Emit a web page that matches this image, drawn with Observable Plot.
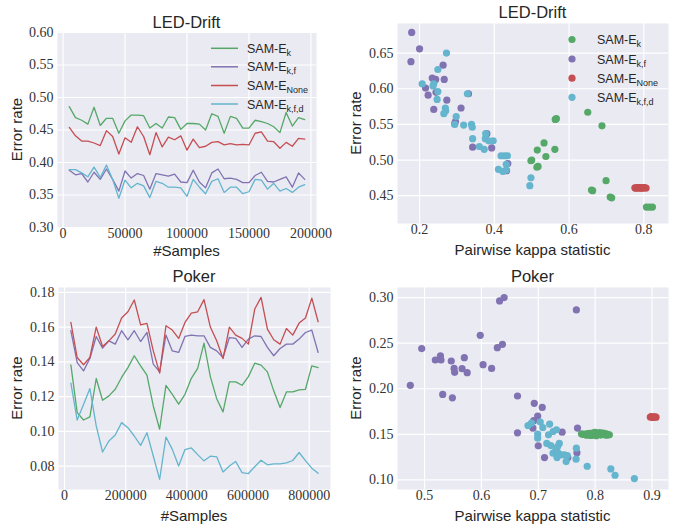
<!DOCTYPE html>
<html><head><meta charset="utf-8">
<script src="https://cdn.jsdelivr.net/npm/d3@7"></script>
<script src="https://cdn.jsdelivr.net/npm/@observablehq/plot@0.6"></script>
<style>
body{margin:0;background:#fff;}
#fig{position:relative;width:681px;height:531px;overflow:hidden;background:#fff;}
#fig > svg{position:absolute;}
</style></head><body><div id="fig"></div>
<script>
// ---------- data ----------
const seriesBase = "SAM-E";
const seriesSubs = ["k", "k,f", "None", "k,f,d"];
const seriesColors = ["#55A868", "#8172B2", "#C44E52", "#64B5CD"];

const ledSamples = [5000,10000,15000,20000,25000,30000,35000,40000,45000,50000,55000,60000,65000,70000,75000,80000,85000,90000,95000,100000,105000,110000,115000,120000,125000,130000,135000,140000,145000,150000,155000,160000,165000,170000,175000,180000,185000,190000,195000];
const ledErrK    = [0.486,0.469,0.465,0.459,0.485,0.457,0.468,0.468,0.445,0.464,0.473,0.473,0.472,0.453,0.460,0.453,0.470,0.469,0.451,0.460,0.460,0.459,0.450,0.475,0.471,0.445,0.471,0.468,0.453,0.453,0.465,0.463,0.460,0.455,0.446,0.477,0.456,0.469,0.466];
const ledErrKF   = [0.388,0.381,0.383,0.370,0.385,0.374,0.390,0.374,0.356,0.387,0.376,0.383,0.380,0.359,0.383,0.381,0.379,0.382,0.370,0.369,0.388,0.370,0.361,0.384,0.390,0.375,0.376,0.374,0.369,0.369,0.380,0.385,0.371,0.370,0.374,0.378,0.362,0.384,0.374];
const ledErrNone = [0.454,0.441,0.433,0.433,0.430,0.426,0.449,0.440,0.413,0.438,0.431,0.455,0.440,0.412,0.446,0.424,0.439,0.435,0.441,0.419,0.436,0.423,0.425,0.431,0.432,0.427,0.429,0.427,0.428,0.427,0.445,0.447,0.433,0.432,0.422,0.431,0.425,0.437,0.436];
const ledErrKFD  = [0.389,0.389,0.384,0.378,0.393,0.377,0.396,0.374,0.345,0.373,0.361,0.368,0.364,0.346,0.371,0.368,0.362,0.362,0.361,0.348,0.374,0.362,0.352,0.371,0.375,0.354,0.362,0.362,0.352,0.355,0.374,0.373,0.359,0.368,0.356,0.360,0.354,0.362,0.366];

const pokerSamples = [20730,41460,62190,82920,103650,124380,145110,165840,186570,207300,228030,248760,269490,290220,310950,331680,352410,373140,393870,414600,435330,456060,476790,497520,518250,538980,559710,580440,601170,621900,642630,663360,684090,704820,725550,746280,767010,787740,808470,829200];
const pokerErrK    = [0.1383,0.1108,0.1065,0.1083,0.1304,0.1179,0.1204,0.1242,0.1310,0.1367,0.1435,0.1377,0.1323,0.1146,0.1012,0.1265,0.1213,0.1156,0.1213,0.1305,0.1362,0.1508,0.1315,0.1188,0.1112,0.1285,0.1285,0.1265,0.1315,0.1392,0.1381,0.1342,0.1233,0.1137,0.1227,0.1227,0.1238,0.1242,0.1377,0.1367];
const pokerErrKF   = [0.1579,0.1396,0.1348,0.1419,0.1546,0.1479,0.1521,0.1502,0.1579,0.1527,0.1579,0.1517,0.1569,0.1387,0.1342,0.1554,0.1463,0.1454,0.1546,0.1554,0.1550,0.1550,0.1483,0.1463,0.1425,0.1540,0.1535,0.1483,0.1531,0.1550,0.1546,0.1483,0.1435,0.1477,0.1502,0.1502,0.1531,0.1569,0.1583,0.1454];
const pokerErrNone = [0.1627,0.1425,0.1383,0.1425,0.1600,0.1488,0.1521,0.1560,0.1652,0.1688,0.1756,0.1613,0.1621,0.1463,0.1335,0.1608,0.1583,0.1535,0.1627,0.1681,0.1688,0.1758,0.1600,0.1521,0.1419,0.1600,0.1554,0.1535,0.1502,0.1704,0.1771,0.1588,0.1527,0.1502,0.1592,0.1554,0.1623,0.1652,0.1767,0.1631];
const pokerErrKFD  = [0.1277,0.1065,0.1155,0.1246,0.1031,0.0881,0.0944,0.0979,0.1050,0.1021,0.0973,0.0919,0.0992,0.0858,0.0723,0.0967,0.0896,0.0800,0.0895,0.0904,0.0866,0.0830,0.0857,0.0853,0.0766,0.0800,0.0826,0.0762,0.0757,0.0796,0.0833,0.0807,0.0812,0.0812,0.0818,0.0832,0.0878,0.0831,0.0788,0.0758];

// scatter: [pairwise kappa, error rate]
const ledScatterK = [[0.566,0.558],[0.563,0.557],[0.533,0.524],[0.515,0.514],[0.562,0.515],[0.500,0.500],[0.498,0.499],[0.538,0.505],[0.517,0.491],[0.514,0.490],[0.650,0.567],[0.688,0.548],[0.699,0.471],[0.660,0.458],[0.663,0.457],[0.710,0.448],[0.714,0.447],[0.807,0.434],[0.815,0.434],[0.823,0.434]];
const ledScatterKF = [[0.179,0.679],[0.200,0.656],[0.177,0.638],[0.263,0.633],[0.234,0.615],[0.243,0.613],[0.266,0.613],[0.216,0.601],[0.244,0.595],[0.223,0.591],[0.273,0.584],[0.238,0.571],[0.311,0.573],[0.331,0.593],[0.296,0.554],[0.294,0.551],[0.436,0.495],[0.380,0.537],[0.342,0.518],[0.393,0.517],[0.433,0.485]];
const ledScatterNone = [[0.776,0.461],[0.779,0.4605],[0.782,0.4615],[0.785,0.461],[0.788,0.4608],[0.791,0.4612],[0.794,0.4605],[0.797,0.461],[0.800,0.4615],[0.803,0.461],[0.806,0.4608]];
const ledScatterKFD = [[0.272,0.650],[0.249,0.627],[0.207,0.607],[0.238,0.607],[0.236,0.604],[0.249,0.596],[0.247,0.585],[0.269,0.573],[0.270,0.569],[0.265,0.565],[0.328,0.593],[0.298,0.561],[0.294,0.550],[0.318,0.549],[0.339,0.550],[0.341,0.546],[0.342,0.530],[0.377,0.537],[0.376,0.530],[0.385,0.527],[0.397,0.527],[0.360,0.519],[0.373,0.515],[0.418,0.506],[0.427,0.506],[0.435,0.506],[0.432,0.494],[0.411,0.487],[0.423,0.484],[0.432,0.486],[0.498,0.475],[0.495,0.464]];

const pokerScatterK = [[0.776,0.1505],[0.779,0.1498],[0.782,0.1502],[0.785,0.1490],[0.787,0.1508],[0.789,0.1495],[0.791,0.1512],[0.793,0.1488],[0.795,0.1503],[0.797,0.1515],[0.799,0.1497],[0.800,0.1522],[0.802,0.1485],[0.804,0.1510],[0.806,0.1500],[0.808,0.1518],[0.810,0.1492],[0.812,0.1505],[0.814,0.1513],[0.816,0.1497],[0.818,0.1508],[0.820,0.1490],[0.822,0.1500],[0.825,0.1495]];
const pokerScatterKF = [[0.475,0.2037],[0.495,0.2440],[0.519,0.2315],[0.528,0.2360],[0.529,0.2315],[0.547,0.2304],[0.552,0.2223],[0.553,0.2180],[0.570,0.2340],[0.566,0.2220],[0.575,0.2176],[0.532,0.1938],[0.549,0.1900],[0.598,0.2586],[0.603,0.2264],[0.618,0.2223],[0.628,0.2450],[0.637,0.2487],[0.632,0.2963],[0.640,0.3000],[0.767,0.2864],[0.6635,0.1920],[0.693,0.1840],[0.707,0.1795],[0.699,0.1700],[0.692,0.1650],[0.6906,0.1568],[0.6635,0.1516],[0.742,0.1524],[0.769,0.1568],[0.700,0.1374],[0.711,0.1245],[0.768,0.1297],[0.752,0.1245]];
const pokerScatterNone = [[0.897,0.1690],[0.899,0.1695],[0.901,0.1685],[0.903,0.1690],[0.905,0.1692],[0.907,0.1688]];
const pokerScatterKFD = [[0.682,0.1597],[0.688,0.1623],[0.7035,0.1634],[0.720,0.1612],[0.708,0.1575],[0.718,0.1495],[0.699,0.1502],[0.699,0.1458],[0.726,0.1531],[0.732,0.1550],[0.737,0.1400],[0.734,0.1366],[0.715,0.1400],[0.722,0.1377],[0.726,0.1293],[0.731,0.1330],[0.735,0.1293],[0.740,0.1275],[0.733,0.1245],[0.746,0.1275],[0.751,0.1267],[0.749,0.1201],[0.7665,0.1227],[0.767,0.1348],[0.786,0.1150],[0.8276,0.1121],[0.835,0.1051],[0.869,0.1015]];

// ticks
const ledLineXTicks = [0,50000,100000,150000,200000];
const ledLineYTicks = [0.30,0.35,0.40,0.45,0.50,0.55,0.60];
const ledScatXTicks = [0.2,0.4,0.6,0.8];
const ledScatYTicks = [0.45,0.50,0.55,0.60,0.65];
const pokerLineXTicks = [0,200000,400000,600000,800000];
const pokerLineYTicks = [0.08,0.10,0.12,0.14,0.16,0.18];
const pokerScatXTicks = [0.5,0.6,0.7,0.8,0.9];
const pokerScatYTicks = [0.10,0.15,0.20,0.25,0.30];

const titles = ["LED-Drift","LED-Drift","Poker","Poker"];
const yLabel = "Error rate";
const xLabels = ["#Samples","Pairwise kappa statistic","#Samples","Pairwise kappa statistic"];

// ---------- drawing ----------
const fig = document.getElementById("fig");
const BG = "#EAEAF2";
const TICKFONT = "'Liberation Serif', 'DejaVu Serif', serif";
const SANS = "'Liberation Sans', Arial, sans-serif";

function baseMarks(xTicks, yTicks, xFmt, yFmt) {
  return [
    Plot.frame({fill: BG, stroke: null}),
    Plot.gridX(xTicks, {stroke: "#fff", strokeOpacity: 1, strokeWidth: 1.2}),
    Plot.gridY(yTicks, {stroke: "#fff", strokeOpacity: 1, strokeWidth: 1.2}),
    Plot.axisX(xTicks, {tickSize: 0, tickPadding: 1, tickFormat: xFmt, label: null, fill: "#333"}),
    Plot.axisY(yTicks, {tickSize: 0, tickPadding: 4, tickFormat: yFmt, label: null, fill: "#333"})
  ];
}

function place(svg, left, top) {
  svg.style.left = left + "px";
  svg.style.top = top + "px";
  fig.appendChild(svg);
}

function linePanel(opt) {
  const lines = opt.series.map((vals, s) =>
    Plot.line(vals.map((v, i) => ({x: opt.samples[i], y: v})),
      {x: "x", y: "y", stroke: seriesColors[s], strokeWidth: 1.3}));
  const p = Plot.plot({
    width: opt.w, height: opt.h,
    marginLeft: opt.m[0], marginRight: opt.m[1], marginTop: opt.m[2], marginBottom: opt.m[3],
    style: {background: "transparent", fontFamily: TICKFONT, fontSize: "14px", overflow: "visible"},
    x: {domain: opt.xDomain},
    y: {domain: opt.yDomain},
    marks: [...baseMarks(opt.xTicks, opt.yTicks, d => String(d), d3.format(".2f")), ...lines]
  });
  place(p, opt.left, opt.top);
}

function scatterPanel(opt) {
  const dots = opt.series.map((pts, s) =>
    Plot.dot(pts, {x: d => d[0], y: d => d[1], r: 3.6, fill: seriesColors[s], stroke: null}));
  const p = Plot.plot({
    width: opt.w, height: opt.h,
    marginLeft: opt.m[0], marginRight: opt.m[1], marginTop: opt.m[2], marginBottom: opt.m[3],
    style: {background: "transparent", fontFamily: TICKFONT, fontSize: "14px", overflow: "visible"},
    x: {domain: opt.xDomain},
    y: {domain: opt.yDomain},
    marks: [...baseMarks(opt.xTicks, opt.yTicks, d3.format(".1f"), d3.format(".2f")), ...dots]
  });
  place(p, opt.left, opt.top);
}

linePanel({left: 0, top: 0, w: 340, h: 260, m: [57, 24, 32, 33],
  samples: ledSamples, series: [ledErrK, ledErrKF, ledErrNone, ledErrKFD],
  xDomain: [-4500, 204500], yDomain: [0.30, 0.60], xTicks: ledLineXTicks, yTicks: ledLineYTicks});

scatterPanel({left: 340, top: 0, w: 341, h: 260, m: [57, 13, 23, 37],
  series: [ledScatterK, ledScatterKF, ledScatterNone, ledScatterKFD],
  xDomain: [0.141, 0.866], yDomain: [0.411, 0.6915], xTicks: ledScatXTicks, yTicks: ledScatYTicks});

linePanel({left: 0, top: 260, w: 340, h: 271, m: [58, 10, 27, 42],
  samples: pokerSamples, series: [pokerErrK, pokerErrKF, pokerErrNone, pokerErrKFD],
  xDomain: [-19694, 869624], yDomain: [0.0665, 0.1828], xTicks: pokerLineXTicks, yTicks: pokerLineYTicks});

scatterPanel({left: 340, top: 260, w: 341, h: 271, m: [57, 13, 27, 42],
  series: [pokerScatterK, pokerScatterKF, pokerScatterNone, pokerScatterKFD],
  xDomain: [0.4525, 0.929], yDomain: [0.0895, 0.311], xTicks: pokerScatXTicks, yTicks: pokerScatYTicks});

// ---------- overlay: titles, axis labels, legends ----------
const NS = "http://www.w3.org/2000/svg";
const ov = document.createElementNS(NS, "svg");
ov.setAttribute("width", 681); ov.setAttribute("height", 531);
ov.style.left = "0px"; ov.style.top = "0px"; ov.style.pointerEvents = "none";
fig.appendChild(ov);

function txt(x, y, s, o = {}) {
  const t = document.createElementNS(NS, "text");
  t.setAttribute("x", x); t.setAttribute("y", y);
  t.setAttribute("font-family", o.family || SANS);
  t.setAttribute("font-size", o.size || 15);
  t.setAttribute("fill", o.fill || "#262626");
  t.setAttribute("text-anchor", o.anchor || "middle");
  if (o.rotate) t.setAttribute("transform", `rotate(-90 ${x} ${y})`);
  t.textContent = s;
  ov.appendChild(t);
  return t;
}

// panel frames (plot areas) in page coordinates
const frames = [
  {x0: 57, x1: 316, y0: 32, y1: 227, titleY: 28, xlabY: 256, ylabX: 22},
  {x0: 397, x1: 668, y0: 23, y1: 223, titleY: 18, xlabY: 255, ylabX: 361},
  {x0: 58, x1: 330, y0: 287, y1: 489, titleY: 282, xlabY: 521, ylabX: 22},
  {x0: 397, x1: 668, y0: 287, y1: 489, titleY: 282, xlabY: 521, ylabX: 361}
];
frames.forEach((f, i) => {
  const cx = (f.x0 + f.x1) / 2, cy = (f.y0 + f.y1) / 2;
  txt(cx, f.titleY, titles[i], {size: 16.5});
  txt(cx, f.xlabY, xLabels[i], {size: 15});
  txt(f.ylabX, cy, yLabel, {size: 15, rotate: true});
});

function legendLabel(x, y, i) {
  const t = txt(x, y, seriesBase, {size: 12.5, anchor: "start"});
  const sub = document.createElementNS(NS, "tspan");
  sub.setAttribute("dy", 3);
  sub.setAttribute("font-size", 9);
  sub.textContent = seriesSubs[i];
  t.appendChild(sub);
}

// line legend (top-left)
const lineRows = [48.3, 66.8, 85.5, 104];
lineRows.forEach((y, i) => {
  const l = document.createElementNS(NS, "line");
  l.setAttribute("x1", 211); l.setAttribute("x2", 238);
  l.setAttribute("y1", y); l.setAttribute("y2", y);
  l.setAttribute("stroke", seriesColors[i]); l.setAttribute("stroke-width", 1.5);
  ov.appendChild(l);
  legendLabel(247, y + 4.5, i);
});

// scatter legend (top-right)
const dotRows = [39.5, 59, 78.2, 97.3];
dotRows.forEach((y, i) => {
  const c = document.createElementNS(NS, "circle");
  c.setAttribute("cx", 572); c.setAttribute("cy", y); c.setAttribute("r", 3.6);
  c.setAttribute("fill", seriesColors[i]);
  ov.appendChild(c);
  legendLabel(597, y + 4.5, i);
});
</script></body></html>
